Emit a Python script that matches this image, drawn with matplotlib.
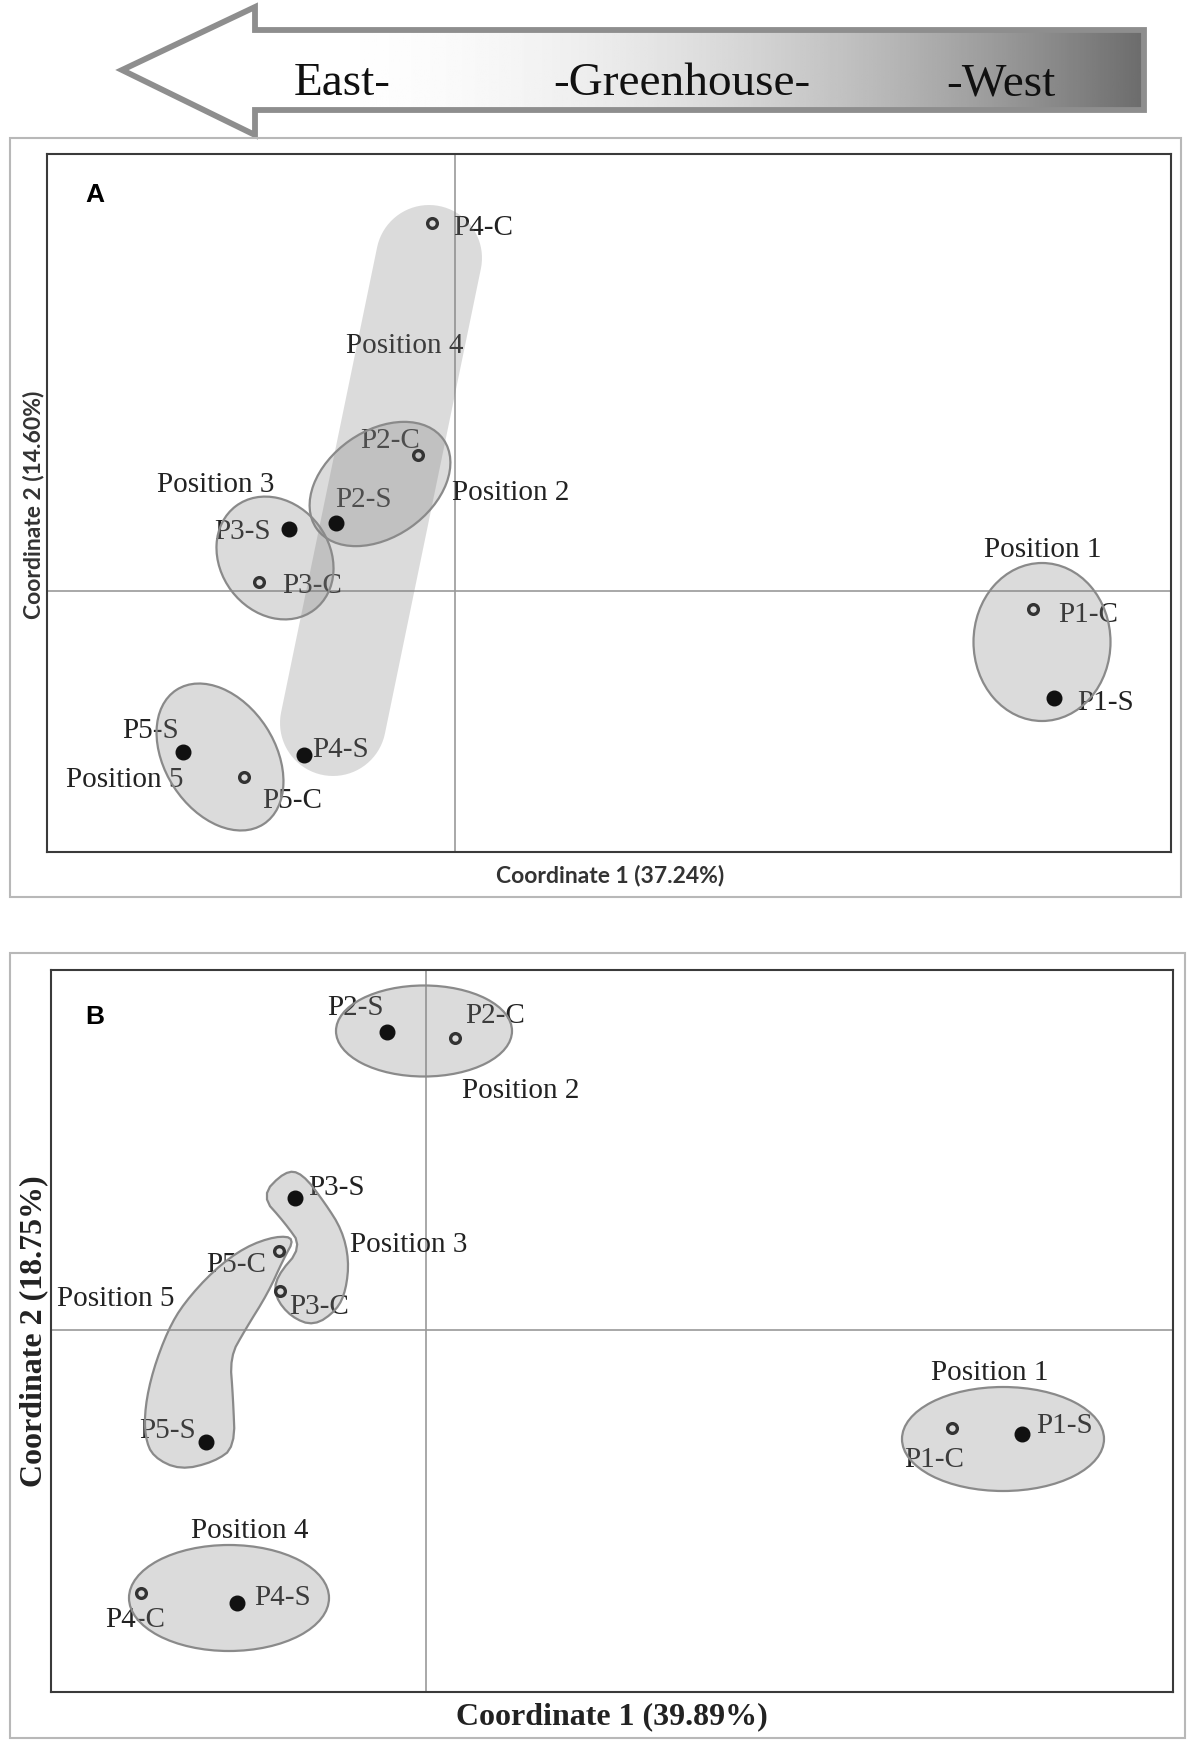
import numpy as np
import matplotlib.pyplot as plt
from matplotlib.patches import Ellipse, Polygon, Rectangle

W, H = 1196, 1742
SERIF = ['Liberation Serif', 'DejaVu Serif']

# ---- panel A : Coordinate 1 (37.24%) / Coordinate 2 (14.60%)
a_names = ['P1-C', 'P1-S', 'P2-C', 'P2-S', 'P3-C', 'P3-S', 'P4-C', 'P4-S', 'P5-C', 'P5-S']
a_x = [5.78, 5.99, -0.37, -1.19, -1.96, -1.66, -0.23, -1.51, -2.11, -2.72]
a_y = [-0.18, -1.07, 1.36, 0.68, 0.09, 0.62, 3.68, -1.64, -1.86, -1.61]
a_text_x = [6.03, 6.22, -0.95, -1.20, -1.73, -2.41, -0.02, -1.43, -1.93, -3.33]
a_text_y = [-0.31, -1.19, 1.43, 0.84, -0.02, 0.52, 3.56, -1.66, -2.17, -1.47]

a_groups = ['Position 1', 'Position 2', 'Position 3', 'Position 5']
a_ell_cx = [5.87, -0.75, -1.80, -2.35]
a_ell_cy = [-0.51, 1.07, 0.33, -1.66]
a_ell_w = [1.37, 1.55, 1.30, 1.60]
a_ell_h = [1.58, 1.06, 1.09, 1.10]
a_ell_ang = [0, 35, -53, -57]
# Position 4 hull is an elongated band between two ends
a_band_ends = [(-0.26, 3.33), (-1.22, -1.32)]
a_band_r = 0.53
a_group_names = ['Position 1', 'Position 2', 'Position 3', 'Position 4', 'Position 5']
a_group_tx = [5.29, -0.03, -2.98, -1.09, -3.89]
a_group_ty = [0.34, 0.91, 0.99, 2.38, -1.96]

# ---- panel B : Coordinate 1 (39.89%) / Coordinate 2 (18.75%)
b_names = ['P1-C', 'P1-S', 'P2-C', 'P2-S', 'P3-C', 'P3-S', 'P4-C', 'P4-S', 'P5-C', 'P5-S']
b_x = [5.26, 5.96, 0.29, -0.39, -1.46, -1.31, -2.85, -1.89, -1.47, -2.20]
b_y = [-0.98, -1.04, 2.92, 2.98, 0.39, 1.32, -2.63, -2.73, 0.79, -1.12]
b_text_x = [4.78, 6.10, 0.39, -0.99, -1.37, -1.18, -3.21, -1.72, -2.20, -2.87]
b_text_y = [-1.37, -1.03, 3.07, 3.15, 0.16, 1.35, -2.97, -2.75, 0.58, -1.08]

b_groups = ['Position 1', 'Position 2', 'Position 4']
b_ell_cx = [5.77, -0.02, -1.97]
b_ell_cy = [-1.09, 2.99, -2.68]
b_ell_w = [2.02, 1.76, 2.00]
b_ell_h = [1.04, 0.91, 1.06]
b_pos3_hull_x = [-1.65, -1.41, -1.24, -1.01, -0.84, -0.77, -0.80, -0.89, -1.12, -1.35, -1.51, -1.50, -1.24, -1.41]
b_pos3_hull_y = [1.34, 1.59, 1.57, 1.27, 1.00, 0.70, 0.40, 0.20, 0.04, 0.13, 0.33, 0.53, 0.83, 1.07]
b_pos5_hull_x = [-1.31, -1.50, -1.81, -2.12, -2.42, -2.58, -2.73, -2.81, -2.81, -2.73, -2.46, -2.12,
                 -1.91, -1.93, -1.96, -1.81, -1.58, -1.43]
b_pos5_hull_y = [0.92, 0.94, 0.83, 0.60, 0.27, 0.00, -0.40, -0.77, -1.07, -1.27, -1.40, -1.32,
                 -1.17, -0.67, -0.27, 0.00, 0.37, 0.70]
b_group_names = ['Position 1', 'Position 2', 'Position 3', 'Position 4', 'Position 5']
b_group_tx = [5.05, 0.36, -0.76, -2.35, -3.69]
b_group_ty = [-0.50, 2.32, 0.78, -2.08, 0.24]

FILL = (0.5, 0.5, 0.5, 0.28)
EDGE = '#8a8a8a'


def px_axes(fig, l, t, r, b):
    return fig.add_axes([l / W, 1 - b / H, (r - l) / W, (b - t) / H])


def stadium(p, q, r, n=40):
    p, q = np.asarray(p), np.asarray(q)
    ang = np.arctan2(q[1] - p[1], q[0] - p[0])
    t_q = np.linspace(ang - np.pi / 2, ang + np.pi / 2, n)
    t_p = np.linspace(ang + np.pi / 2, ang + 3 * np.pi / 2, n)
    return np.vstack([q + r * np.c_[np.cos(t_q), np.sin(t_q)],
                      p + r * np.c_[np.cos(t_p), np.sin(t_p)]])


def chaikin(pts, n=2):
    pts = np.asarray(pts, float)
    for _ in range(n):
        nxt = np.roll(pts, -1, axis=0)
        out = np.empty((2 * len(pts), 2))
        out[0::2] = 0.75 * pts + 0.25 * nxt
        out[1::2] = 0.25 * pts + 0.75 * nxt
        pts = out
    return pts


def frame_box(fig, l, t, r, b):
    fig.add_artist(Rectangle((l / W, 1 - b / H), (r - l) / W, (b - t) / H,
                             transform=fig.transFigure, fill=False,
                             ec='#b8b8b8', lw=1.5))


def setup(ax, xlim, ylim):
    ax.set_xlim(*xlim)
    ax.set_ylim(*ylim)
    ax.set_xticks([])
    ax.set_yticks([])
    for s in ax.spines.values():
        s.set_color('#3a3a3a')
        s.set_linewidth(1.5)
    ax.axvline(0, color='#9a9a9a', lw=1.2, zorder=0.5)
    ax.axhline(0, color='#9a9a9a', lw=1.2, zorder=0.5)


def draw_points(ax, names, xs, ys, tx, ty):
    for nm, x, y, u, v in zip(names, xs, ys, tx, ty):
        if nm.endswith('S'):
            ax.plot(x, y, 'o', ms=10.5, mfc='#111111', mec='#111111', zorder=5)
        else:
            ax.plot(x, y, 'o', ms=7, mfc='none', mec='#333333', mew=2.4, zorder=5)
        ax.text(u, v, nm, fontsize=21, family=SERIF, color='#222222',
                ha='left', va='baseline', zorder=1)


fig = plt.figure(figsize=(W / 100, H / 100), dpi=100)

# ---- top arrow
axt = fig.add_axes([0, 1 - 150 / H, 1, 150 / H])
axt.set_xlim(0, W)
axt.set_ylim(150, 0)
axt.axis('off')
arrow = Polygon([(122, 70), (255, 7), (255, 30), (1144, 30), (1144, 110),
                 (255, 110), (255, 135)], closed=True, fc='none', ec='#8e8e8e',
                lw=4.2, joinstyle='miter', zorder=3)
axt.add_patch(arrow)
gx = np.linspace(122, 1144, 500)
tt = np.clip((gx - 290) / (1144 - 290), 0, 1)
grad = 1 - (1 - 0x6c / 255) * tt ** 2
im = axt.imshow(grad[None, :], cmap='gray', vmin=0, vmax=1, aspect='auto',
                extent=(122, 1144, 140, 0), zorder=1)
clip = Polygon(arrow.get_xy(), closed=True, transform=axt.transData)
im.set_clip_path(clip)
axt.set_xlim(0, W)
axt.set_ylim(150, 0)
for s, x0 in [('East-', 294), ('-Greenhouse-', 553), ('-West', 946)]:
    axt.text(x0, 95, s, fontsize=34, family=SERIF, color='#111111',
             ha='left', va='baseline', zorder=4)

# ---- panel A
frame_box(fig, 10, 138, 1181, 897)
axa = px_axes(fig, 47, 154, 1171, 852)
setup(axa, (-4.08, 7.16), (-2.61, 4.37))
axa.add_patch(Polygon(stadium(*a_band_ends, a_band_r), closed=True,
                      fc=FILL, ec='none', zorder=2))
for cx, cy, w, h, ang in zip(a_ell_cx, a_ell_cy, a_ell_w, a_ell_h, a_ell_ang):
    axa.add_patch(Ellipse((cx, cy), w, h, angle=ang, fc=FILL, ec=EDGE, lw=1.6, zorder=2))
draw_points(axa, a_names, a_x, a_y, a_text_x, a_text_y)
for nm, u, v in zip(a_group_names, a_group_tx, a_group_ty):
    axa.text(u, v, nm, fontsize=21, family=SERIF, color='#222222',
             ha='left', va='baseline', zorder=1)
axa.text(-4.08 + 0.38, 3.96, 'A', fontsize=19, fontweight='bold',
         family=['Liberation Sans', 'DejaVu Sans'], ha='left', va='center')
fig.text(610 / W, 1 - 875 / H, 'Coordinate 1 (37.24%)', fontsize=16.5, fontweight='bold',
         family=['Lato', 'DejaVu Sans'], color='#333333', ha='center', va='center')
fig.text(34 / W, 1 - 505 / H, 'Coordinate 2 (14.60%)', fontsize=16.5, fontweight='bold',
         family=['Lato', 'DejaVu Sans'], color='#333333', ha='center', va='center',
         rotation=90)

# ---- panel B
frame_box(fig, 10, 953, 1185, 1738)
axb = px_axes(fig, 50.5, 970, 1173, 1692)
setup(axb, (-3.755, 7.47), (-3.62, 3.60))
axb.add_patch(Polygon(chaikin(np.c_[b_pos5_hull_x, b_pos5_hull_y]), closed=True,
                      fc=FILL, ec=EDGE, lw=1.6, zorder=2))
axb.add_patch(Polygon(chaikin(np.c_[b_pos3_hull_x, b_pos3_hull_y]), closed=True,
                      fc=FILL, ec=EDGE, lw=1.6, zorder=2))
for cx, cy, w, h in zip(b_ell_cx, b_ell_cy, b_ell_w, b_ell_h):
    axb.add_patch(Ellipse((cx, cy), w, h, fc=FILL, ec=EDGE, lw=1.6, zorder=2))
draw_points(axb, b_names, b_x, b_y, b_text_x, b_text_y)
for nm, u, v in zip(b_group_names, b_group_tx, b_group_ty):
    axb.text(u, v, nm, fontsize=21, family=SERIF, color='#222222',
             ha='left', va='baseline', zorder=1)
axb.text(-3.755 + 0.345, 3.13, 'B', fontsize=19, fontweight='bold',
         family=['Liberation Sans', 'DejaVu Sans'], ha='left', va='center')
fig.text(612 / W, 1 - 1717 / H, 'Coordinate 1 (39.89%)', fontsize=23, fontweight='bold',
         family=SERIF, color='#222222', ha='center', va='center')
fig.text(34 / W, 1 - 1331 / H, 'Coordinate 2 (18.75%)', fontsize=23, fontweight='bold',
         family=SERIF, color='#222222', ha='center', va='center', rotation=90)

fig.savefig('out.png', dpi=100)
